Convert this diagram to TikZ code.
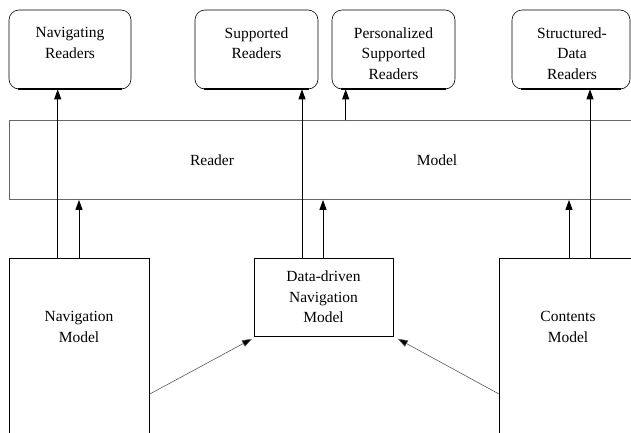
\documentclass[tikz,border=0pt]{standalone}
\usepackage{fontspec}
\setmainfont{Liberation Serif}
\usetikzlibrary{arrows.meta}
\begin{document}
\begin{tikzpicture}[x=1pt,y=-1pt,
  rbox/.style={draw=black, line width=0.6pt, rounded corners=10pt, inner sep=0pt},
  mbox/.style={draw=black, line width=0.8pt, inner sep=0pt},
  bandbox/.style={draw=gray!80!black, line width=0.9pt, inner sep=0pt},
  lbl/.style={font=\fontsize{15.5}{20.5}\selectfont, align=center, inner sep=0pt},
  arr/.style={line width=0.9pt, -{Triangle[length=10pt,width=7pt]}},
  darr/.style={draw=gray!70!black, line width=0.6pt, -{Triangle[length=10pt,width=7pt,fill=black]}},
  thickb/.style={line width=2pt}
]
\useasboundingbox (0,0) rectangle (631,432);

% top reader boxes
\node[rbox, minimum width=122pt, minimum height=79pt] (navr) at (70,49.5) {};
\node[rbox, minimum width=123pt, minimum height=79pt] (supr) at (256.5,49.5) {};
\node[rbox, minimum width=123pt, minimum height=79pt] (perr) at (393.5,49.5) {};
\node[rbox, minimum width=118pt, minimum height=79pt] (strr) at (571,49.5) {};
\foreach \b in {navr,supr,perr,strr}
  \draw[thickb] ([xshift=9pt]\b.south west) -- ([xshift=-9pt]\b.south east);

\node[lbl, anchor=north] (tnavr) at (70,27.5) {Navigating\\Readers};
\node[lbl, anchor=north] (tsupr) at (256.5,27.5) {Supported\\Readers};
\node[lbl, anchor=north] (tperr) at (393.5,27.5) {Personalized\\Supported\\Readers};
\node[lbl, anchor=north] (tstrr) at (572,27.5) {Structured-\\Data\\Readers};

% reader model band
\node[bandbox, minimum width=640pt, minimum height=79pt, anchor=north west] (rm) at (9,120) {};
\node[lbl] (trm1) at (212,160) {Reader};
\node[lbl] (trm2) at (437,160) {Model};

% bottom model boxes
\node[mbox, minimum width=140pt, minimum height=192pt, anchor=north west] (navm) at (9,258) {};
\node[mbox, minimum width=139pt, minimum height=78pt, anchor=north west] (ddm) at (254,258) {};
\node[mbox, minimum width=150pt, minimum height=192pt, anchor=north west] (contm) at (499,258) {};
\node[lbl] (tnavm) at (79,327) {Navigation\\Model};
\node[lbl] (tddm) at (323.5,297) {Data-driven\\Navigation\\Model};
\node[lbl] (tcontm) at (568,327) {Contents\\Model};

% vertical connectors
\draw[arr] ([xshift=48.7pt]navm.north west) coordinate (s1) -- (s1 |- navr.south);
\draw[arr] ([xshift=70pt]navm.north west) coordinate (s2) -- (s2 |- rm.south);
\draw[arr] ([xshift=48pt]ddm.north west) coordinate (s3) -- (s3 |- supr.south);
\draw[arr] ([xshift=69pt]ddm.north west) coordinate (s4) -- (s4 |- rm.south);
\draw[arr] ([xshift=14pt]perr.south west) coordinate (e5) (e5 |- rm.north) -- (e5);
\draw[arr] ([xshift=70pt]contm.north west) coordinate (s6) -- (s6 |- rm.south);
\draw[arr] ([xshift=91pt]contm.north west) coordinate (s7) -- (s7 |- strr.south);

% diagonal connectors
\draw[darr] ([yshift=-136pt]navm.north east) -- ([xshift=-2pt,yshift=-2pt]ddm.south west);
\draw[darr] ([yshift=-136pt]contm.north west) -- ([xshift=4pt,yshift=-2pt]ddm.south east);
\end{tikzpicture}
\end{document}
